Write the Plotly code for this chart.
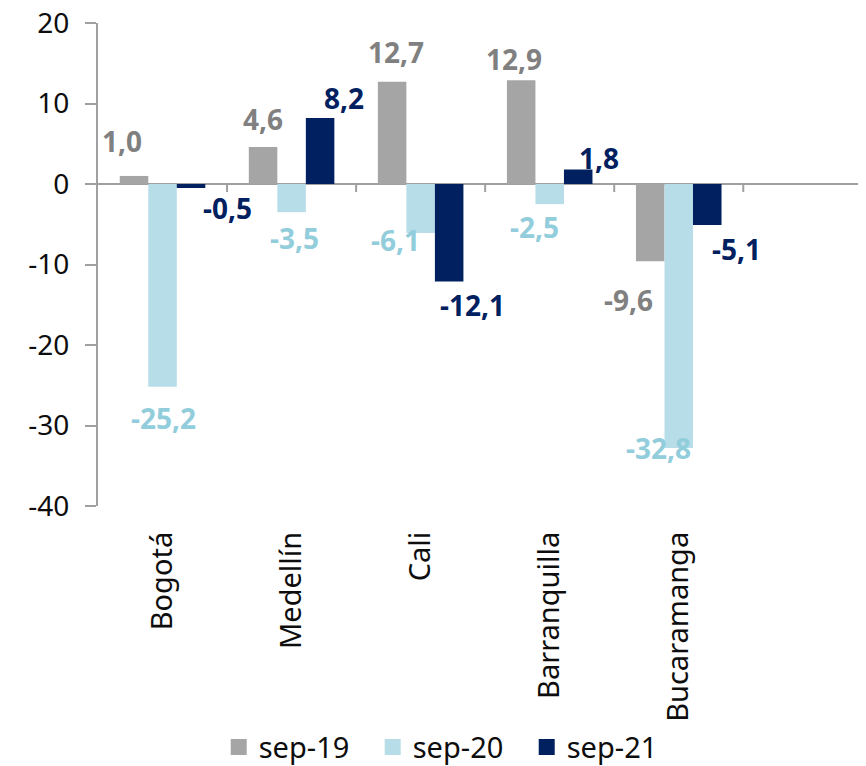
import plotly.graph_objects as go

categories = ["Bogotá", "Medellín", "Cali", "Barranquilla", "Bucaramanga"]
series_names = ["sep-19", "sep-20", "sep-21"]
sep19 = [1.0, 4.6, 12.7, 12.9, -9.6]
sep20 = [-25.2, -3.5, -6.1, -2.5, -32.8]
sep21 = [-0.5, 8.2, -12.1, 1.8, -5.1]
y_ticks = [20, 10, 0, -10, -20, -30, -40]
y_tick_text = [str(v) for v in y_ticks]

# styling
bar_colors = ["#A5A5A5", "#B7DDE8", "#002060"]
label_colors = ["#808080", "#92CDDC", "#002060"]
FONT = "Noto Sans"
TXT = "#0d0d0d"
AX = "#A0A0A0"
# hand-placed label nudges (pixels) per series, like the original chart
label_dx = [[-12, 0, 4, -7, -22], [1, 3, -25, -15, -20], [36, 24, 23, 21, 29]]
label_dy = [[35, 28, 30, 21, -39], [-31, -26, -7, -23, 0], [-20, 20, -24, 12, -24]]
group_offset = [-28.5, 0, 28.5]

def fmt(v):
    return f"{v:.1f}".replace(".", ",")

fig = go.Figure()
all_series = [sep19, sep20, sep21]
for name, vals, col in zip(series_names, all_series, bar_colors):
    fig.add_trace(go.Bar(x=categories, y=vals, name=name, marker_color=col,
                         marker_line_width=0, showlegend=False))
    fig.add_trace(go.Scatter(x=[None], y=[None], mode="markers", name=name,
                             marker=dict(symbol="square", size=20, color=col)))

annotations = []
for s, vals in enumerate(all_series):
    for i, v in enumerate(vals):
        annotations.append(dict(
            x=categories[i], y=v, xref="x", yref="y", text=f"<b>{fmt(v)}</b>",
            showarrow=False, xanchor="center", yanchor="middle",
            xshift=group_offset[s] + label_dx[s][i], yshift=label_dy[s][i],
            font=dict(family=FONT, size=28, color=label_colors[s])))

shapes = []
for i in range(len(categories)):
    shapes.append(dict(type="line", xref="x", yref="y", x0=i + 0.5, x1=i + 0.5,
                       ysizemode="pixel", yanchor=0, y0=0, y1=-8,
                       line=dict(color=AX, width=2)))

fig.update_layout(
    width=858, height=758,
    margin=dict(l=90, r=4, t=15, b=260, autoexpand=False),
    plot_bgcolor="white", paper_bgcolor="white",
    barmode="group", bargap=0.337, bargroupgap=0,
    font=dict(family=FONT, size=28, color=TXT),
    showlegend=True,
    legend=dict(orientation="h", x=0.158, xanchor="left", xref="paper",
                y=0.025, yanchor="middle", yref="container", bgcolor="rgba(0,0,0,0)",
                font=dict(family=FONT, size=29, color=TXT),
                itemsizing="trace", entrywidth=109, tracegroupgap=0),
    annotations=annotations,
    shapes=shapes,
)
fig.update_xaxes(type="category", range=[-0.5, 5.42], showline=False, ticks="",
                 tickangle=-90, tickfont=dict(family=FONT, size=29, color=TXT),
                 showgrid=False, zeroline=False, ticklabelstandoff=19,
                 ticklabeloverflow="allow", automargin=False)
fig.update_yaxes(range=[-40, 20], tickvals=y_ticks, ticktext=y_tick_text, showgrid=False,
                 zeroline=True, zerolinecolor=AX, zerolinewidth=2,
                 showline=True, linecolor=AX, linewidth=2,
                 ticks="outside", ticklen=11, tickcolor=AX, tickwidth=2,
                 ticklabelstandoff=10, ticklabeloverflow="allow", automargin=False,
                 tickfont=dict(family=FONT, size=28, color=TXT))

fig.write_html("out.html")
